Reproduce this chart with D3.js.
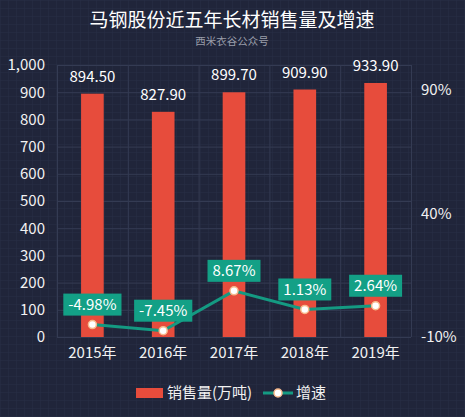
<!doctype HTML>
<html>
<head>
    <style>
        body { margin: 0; background: #20253a; }
        text { font-family: "Noto Sans CJK SC", "Noto Sans", sans-serif; }
    </style>
    <script src="https://d3js.org/d3.v7.min.js"></script>
</head>
<body>
<div id="chart"></div>
<script>

    // chart data
    var years = ["2015年", "2016年", "2017年", "2018年", "2019年"];
    var sales = [894.5, 827.9, 899.7, 909.9, 933.9];
    var growth = [-4.98, -7.45, 8.67, 1.13, 2.64];
    var leftTicks = [0, 100, 200, 300, 400, 500, 600, 700, 800, 900, 1000];
    var rightTicks = [-10, 40, 90];

    var canvasWidth = 465;
    var canvasHeight = 417;
    var plotLeft = 57, plotRight = 411, plotTop = 65, plotBottom = 337;

    var svg = d3.select("#chart").append("svg")
        .attr("width", canvasWidth)
        .attr("height", canvasHeight);

    // dark background with a fine grid
    var pattern = svg.append("defs").append("pattern")
        .attr("id", "bgGrid")
        .attr("width", 8)
        .attr("height", 8)
        .attr("patternUnits", "userSpaceOnUse");
    pattern.append("rect")
        .attr("width", 8).attr("height", 8)
        .attr("fill", "#20253a");
    pattern.append("path")
        .attr("d", "M8 0 L0 0 L0 8")
        .attr("fill", "none")
        .attr("stroke", "#282e46")
        .attr("stroke-width", 1);
    svg.append("rect")
        .attr("width", canvasWidth)
        .attr("height", canvasHeight)
        .attr("fill", "url(#bgGrid)");

    // title
    svg.append("text")
        .attr("x", 232)
        .attr("y", 27)
        .attr("text-anchor", "middle")
        .attr("font-size", "19px")
        .attr("fill", "#ffffff")
        .text("马钢股份近五年长材销售量及增速");

    svg.append("text")
        .attr("x", 232)
        .attr("y", 45)
        .attr("text-anchor", "middle")
        .attr("font-size", "10.5px")
        .attr("fill", "#9a9eaa")
        .text("西米衣谷公众号");

    // scales
    var x = d3.scaleBand()
        .domain(years)
        .range([plotLeft, plotRight])
        .padding(0);

    var y = d3.scaleLinear()
        .domain([0, 1000])
        .range([plotBottom, plotTop]);

    var y2 = d3.scaleLinear()
        .domain([-10, 100])
        .range([plotBottom, plotTop]);

    // gridlines
    svg.append("g")
        .selectAll("line")
        .data(leftTicks)
        .join("line")
        .attr("x1", plotLeft)
        .attr("x2", plotRight)
        .attr("y1", d => y(d) + 0.5)
        .attr("y2", d => y(d) + 0.5)
        .attr("stroke", "#343b53")
        .attr("stroke-width", 1);

    var edges = years.map(d => x(d)).concat([plotRight]);
    svg.append("g")
        .selectAll("line")
        .data(edges)
        .join("line")
        .attr("x1", d => d + 0.5)
        .attr("x2", d => d + 0.5)
        .attr("y1", plotTop)
        .attr("y2", plotBottom)
        .attr("stroke", "#343b53")
        .attr("stroke-width", 1);

    // axes
    var leftAxis = svg.append("g")
        .attr("transform", `translate(${plotLeft}, 0)`)
        .call(d3.axisLeft(y).tickValues(leftTicks).tickFormat(d3.format(",")).tickSize(0).tickPadding(12));

    var rightAxis = svg.append("g")
        .attr("transform", `translate(${plotRight}, 0)`)
        .call(d3.axisRight(y2).tickValues(rightTicks).tickFormat(d => d + "%").tickSize(0).tickPadding(10));

    var bottomAxis = svg.append("g")
        .attr("transform", `translate(0, ${plotBottom})`)
        .call(d3.axisBottom(x).tickSize(0).tickPadding(10));

    [leftAxis, rightAxis, bottomAxis].forEach(function(g) {
        g.select(".domain").remove();
        g.selectAll("text")
            .attr("fill", "#f2f2f2")
            .attr("font-size", "15px");
    });

    // bars
    var barWidth = x.bandwidth() * 0.32;
    svg.append("g")
        .selectAll("rect")
        .data(sales)
        .join("rect")
        .attr("x", (d, i) => x(years[i]) + x.bandwidth() / 2 - barWidth / 2)
        .attr("y", d => y(d))
        .attr("width", barWidth)
        .attr("height", d => plotBottom - y(d))
        .attr("fill", "#e74c3c");

    svg.append("g")
        .selectAll("text")
        .data(sales)
        .join("text")
        .attr("x", (d, i) => x(years[i]) + x.bandwidth() / 2)
        .attr("y", d => y(d) - 12)
        .attr("text-anchor", "middle")
        .attr("font-size", "15px")
        .attr("fill", "#ffffff")
        .text(d => d.toFixed(2));

    // growth line
    var line = d3.line()
        .x((d, i) => x(years[i]) + x.bandwidth() / 2)
        .y(d => y2(d));

    svg.append("path")
        .datum(growth)
        .attr("d", line)
        .attr("fill", "none")
        .attr("stroke", "#149a82")
        .attr("stroke-width", 3);

    svg.append("g")
        .selectAll("circle")
        .data(growth)
        .join("circle")
        .attr("cx", (d, i) => x(years[i]) + x.bandwidth() / 2)
        .attr("cy", d => y2(d))
        .attr("r", 4)
        .attr("fill", "#ffffff")
        .attr("stroke", "#f7b98b")
        .attr("stroke-width", 1.5);

    // growth labels in boxes
    var labels = svg.append("g")
        .selectAll("g")
        .data(growth)
        .join("g")
        .attr("transform", (d, i) => `translate(${x(years[i]) + x.bandwidth() / 2}, ${y2(d) - 20})`);

    labels.append("rect")
        .attr("x", -29)
        .attr("y", -11)
        .attr("width", 58)
        .attr("height", 22)
        .attr("fill", "#13a086");

    labels.append("text")
        .attr("text-anchor", "middle")
        .attr("dy", "0.35em")
        .attr("font-size", "15px")
        .attr("fill", "#ffffff")
        .text(d => d.toFixed(2) + "%");

    labels.each(function() {
        var g = d3.select(this);
        var w = g.select("text").node().getComputedTextLength() + 10;
        g.select("rect").attr("x", -w / 2).attr("width", w);
    });

    // legend
    var legend = svg.append("g");
    legend.append("rect")
        .attr("x", 136)
        .attr("y", 388)
        .attr("width", 27)
        .attr("height", 10)
        .attr("fill", "#e74c3c");
    legend.append("text")
        .attr("x", 167)
        .attr("y", 393)
        .attr("dy", "0.35em")
        .attr("font-size", "15px")
        .attr("fill", "#f2f2f2")
        .text("销售量(万吨)");
    legend.append("line")
        .attr("x1", 263)
        .attr("x2", 293)
        .attr("y1", 393)
        .attr("y2", 393)
        .attr("stroke", "#149a82")
        .attr("stroke-width", 3);
    legend.append("circle")
        .attr("cx", 278)
        .attr("cy", 393)
        .attr("r", 4)
        .attr("fill", "#ffffff")
        .attr("stroke", "#f7b98b")
        .attr("stroke-width", 1.5);
    legend.append("text")
        .attr("x", 296)
        .attr("y", 393)
        .attr("dy", "0.35em")
        .attr("font-size", "15px")
        .attr("fill", "#f2f2f2")
        .text("增速");

</script>
</body>
</html>
